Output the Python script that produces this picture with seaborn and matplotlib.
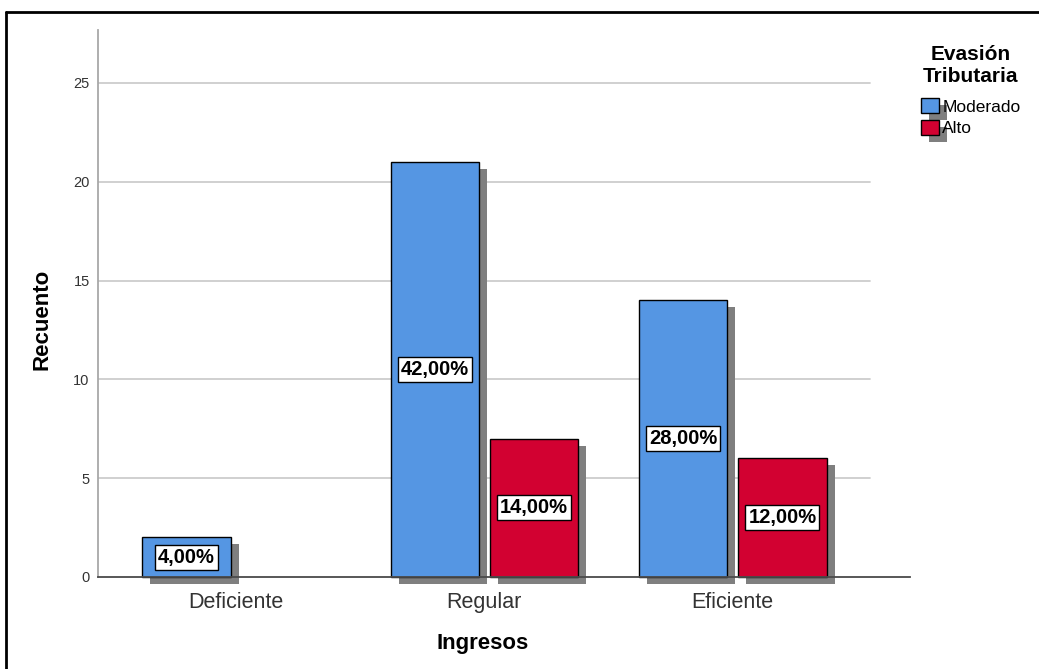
import matplotlib
matplotlib.use("Agg")
import matplotlib.pyplot as plt
import matplotlib.patheffects as pe
from matplotlib.patches import Patch
from matplotlib.lines import Line2D
import pandas as pd
import seaborn as sns

# Counts of respondents by income level and tax-evasion level
ingresos = ["Deficiente", "Regular", "Regular", "Eficiente", "Eficiente"]
evasion = ["Moderado", "Moderado", "Alto", "Moderado", "Alto"]
recuento = [2, 21, 7, 14, 6]
total = 50

categorias = ["Deficiente", "Regular", "Eficiente"]
niveles = ["Moderado", "Alto"]
colores = {"Moderado": "#5596E3", "Alto": "#D20131"}
y_ticks = [0, 5, 10, 15, 20, 25]

df = pd.DataFrame({"Ingresos": ingresos, "Evasión": evasion, "Recuento": recuento})

sns.set_style("white")
plt.rcParams["font.family"] = ["Liberation Sans", "DejaVu Sans"]
plt.rcParams["text.color"] = "black"

W, H = 1039, 669
fig = plt.figure(figsize=(W / 100, H / 100), dpi=100)
ax = fig.add_axes([98 / W, 1 - 577 / H, (910 - 98) / W, (577 - 30) / H])

shadow = [pe.SimplePatchShadow(offset=(5.8, -5.0), shadow_rgbFace="#7f7f7f", alpha=1.0, rho=1.0),
          pe.Normal()]

sns.barplot(data=df, x="Ingresos", y="Recuento", hue="Evasión",
            order=categorias, hue_order=niveles, palette=colores, saturation=1,
            width=0.8, gap=0.11, edgecolor="black", linewidth=1.0,
            legend=False, ax=ax, zorder=3)

for bar in ax.patches:
    bar.set_path_effects(shadow)
    bar.set_clip_on(False)

ax.set_ylim(0, 27.68)
ax.set_xlim(-0.556, 2.714)

# light horizontal reference lines
for yv in y_ticks[1:]:
    ax.axhline(yv, xmin=0, xmax=0.951, color="#cdcdcd", lw=1.3, zorder=1)

ax.set_yticks(y_ticks)
ax.tick_params(axis="y", length=0, pad=6, labelsize=10.5, labelcolor="#333333")
ax.tick_params(axis="x", length=0, pad=11, labelsize=15.5, labelcolor="#333333")
ax.set_xlabel("")
ax.set_ylabel("")
for s in ["top", "right"]:
    ax.spines[s].set_visible(False)
ax.spines["left"].set_color("#a8a8a8")
ax.spines["left"].set_linewidth(1.3)
ax.spines["bottom"].set_color("#4a4a4a")
ax.spines["bottom"].set_linewidth(1.3)
ax.spines["bottom"].set_zorder(4)

# percentage labels centred on each bar
for bar in ax.patches:
    h = bar.get_height()
    if h <= 0:
        continue
    pct = h / total * 100
    txt = f"{pct:.2f}%".replace(".", ",")
    ax.text(bar.get_x() + bar.get_width() / 2, h / 2, txt,
            ha="center", va="center", fontsize=14.5, fontweight="bold", color="black",
            zorder=5,
            bbox=dict(boxstyle="square,pad=0.15", fc="white", ec="black", lw=1.0))

fig.text(483 / W, 1 - 643 / H, "Ingresos", ha="center", va="center",
         fontsize=16, fontweight="bold")
fig.text(42 / W, 1 - 319 / H, "Recuento", ha="center", va="center",
         rotation=90, fontsize=16, fontweight="bold")

handles = [Patch(facecolor=colores[n], edgecolor="black", lw=1.0, label=n,
                 path_effects=shadow) for n in niveles]
leg = fig.legend(handles=handles, loc="upper left",
                 bbox_to_anchor=(912 / W, 1 - 36 / H),
                 title="Evasión\nTributaria", frameon=False, fontsize=12.5,
                 title_fontproperties={"weight": "bold", "size": 15},
                 handlelength=1.05, handleheight=0.95, handletextpad=0.2,
                 labelspacing=0.3, borderpad=0.0)
leg.get_title().set_multialignment("center")
leg._legend_box.align = "center"
leg._legend_box.sep = 9

# outer frame of the figure
fig.add_artist(Line2D([6 / W, 1], [1 - 12 / H, 1 - 12 / H], color="black", lw=2,
                      transform=fig.transFigure))
fig.add_artist(Line2D([6 / W, 6 / W], [0, 1 - 12 / H], color="black", lw=2,
                      transform=fig.transFigure))

fig.savefig("out.png", dpi=100, facecolor="white")
